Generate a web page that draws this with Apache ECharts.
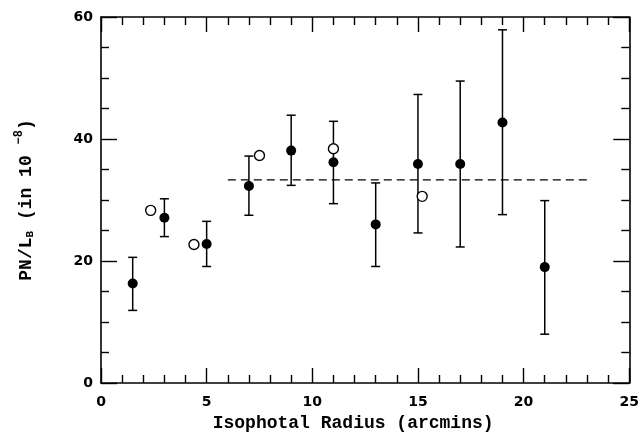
<!DOCTYPE html>
<html>
<head>
<meta charset="utf-8">
<script src="https://cdn.jsdelivr.net/npm/echarts@6/dist/echarts.min.js"></script>
<style>
  html, body { margin: 0; padding: 0; background: #fff; }
  #chart { width: 642px; height: 437px; }
</style>
</head>
<body>
<div id="chart"></div>
<script>
// filled points with error bars
const radius = [1.5, 3, 5, 7, 9, 11, 13, 15, 17, 19, 21];
const ratio = [16.3, 27.1, 22.8, 32.3, 38.1, 36.2, 26.0, 35.9, 35.9, 42.7, 19.0];
const errLow = [11.9, 24.0, 19.1, 27.5, 32.4, 29.4, 19.1, 24.6, 22.3, 27.6, 8.0];
const errHigh = [20.6, 30.2, 26.5, 37.2, 43.9, 42.9, 32.8, 47.3, 49.5, 57.9, 29.9];

// open circles
const openRadius = [2.35, 4.4, 7.5, 11.0, 15.2];
const openRatio = [28.3, 22.7, 37.3, 38.4, 30.6];

// mean level
const meanX = [6, 23];
const meanY = 33.3;

const mono = '"Liberation Mono", "DejaVu Sans Mono", monospace';
const sans = '"DejaVu Sans", "Liberation Sans", sans-serif';

var chart = echarts.init(document.getElementById('chart'));

const tickLine = { color: '#000', width: 1.4 };

function xAx(pos, labels) {
  return {
    type: 'value', position: pos, min: 0, max: 25, interval: 5,
    axisLine: { show: true, onZero: false, lineStyle: { color: '#000', width: 1.6 } },
    axisTick: { show: true, inside: true, length: 15, lineStyle: tickLine },
    minorTick: { show: true, splitNumber: 5, length: 8, lineStyle: tickLine },
    axisLabel: { show: labels, color: '#000', fontFamily: sans, fontWeight: 'bold', fontSize: 14, margin: 12 },
    splitLine: { show: false },
    minorSplitLine: { show: false }
  };
}
function yAx(pos, labels) {
  return {
    type: 'value', position: pos, min: 0, max: 60, interval: 20,
    axisLine: { show: true, onZero: false, lineStyle: { color: '#000', width: 1.6 } },
    axisTick: { show: true, inside: true, length: 16, lineStyle: tickLine },
    minorTick: { show: true, splitNumber: 4, length: 8, lineStyle: tickLine },
    axisLabel: { show: labels, color: '#000', fontFamily: sans, fontWeight: 'bold', fontSize: 14, margin: 8 },
    splitLine: { show: false },
    minorSplitLine: { show: false }
  };
}

const xBottom = xAx('bottom', true);
xBottom.name = 'Isophotal Radius (arcmins)';
xBottom.nameLocation = 'middle';
xBottom.nameGap = 31;
xBottom.nameTextStyle = { color: '#000', fontFamily: mono, fontWeight: 'bold', fontSize: 18, padding: [0, 24, 0, 0] };

const yLeft = yAx('left', true);
yLeft.name = '{a|PN/L}{b|B}{a| (in 10 }{c|−8}{a|)}';
yLeft.nameLocation = 'middle';
yLeft.nameGap = 62;
yLeft.nameTextStyle = {
  rich: {
    a: { color: '#000', fontFamily: mono, fontWeight: 'bold', fontSize: 18, lineHeight: 26, verticalAlign: 'middle' },
    b: { color: '#000', fontFamily: mono, fontWeight: 'bold', fontSize: 11, lineHeight: 26, verticalAlign: 'bottom', padding: [0, 0, 3, 0] },
    c: { color: '#000', fontFamily: mono, fontWeight: 'bold', fontSize: 12, lineHeight: 26, verticalAlign: 'top', padding: [0, 0, 0, 0] }
  }
};

const errData = radius.map((x, i) => [x, errLow[i], errHigh[i]]);

chart.setOption({
  animation: false,
  backgroundColor: '#fff',
  grid: { left: 101, top: 17, right: 10, bottom: 51, containLabel: false },
  xAxis: [xBottom, xAx('top', false)],
  yAxis: [yLeft, yAx('right', false)],
  series: [
    {
      type: 'line',
      data: meanX.map(x => [x, meanY]),
      symbol: 'none',
      lineStyle: { color: '#000', width: 1.2, type: [8, 5] },
      z: 1
    },
    {
      type: 'custom',
      data: errData,
      renderItem: function (params, api) {
        const x = api.value(0);
        const top = api.coord([x, api.value(2)]);
        const bot = api.coord([x, api.value(1)]);
        const w = 4.5;
        const st = { stroke: '#000', lineWidth: 1.5 };
        return {
          type: 'group',
          children: [
            { type: 'line', shape: { x1: top[0], y1: top[1], x2: bot[0], y2: bot[1] }, style: st },
            { type: 'line', shape: { x1: top[0] - w, y1: top[1], x2: top[0] + w, y2: top[1] }, style: st },
            { type: 'line', shape: { x1: bot[0] - w, y1: bot[1], x2: bot[0] + w, y2: bot[1] }, style: st }
          ]
        };
      },
      z: 2
    },
    {
      type: 'scatter',
      data: radius.map((x, i) => [x, ratio[i]]),
      symbol: 'circle',
      symbolSize: 10,
      itemStyle: { color: '#000', opacity: 1 },
      z: 3
    },
    {
      type: 'scatter',
      data: openRadius.map((x, i) => [x, openRatio[i]]),
      symbol: 'circle',
      symbolSize: 10,
      itemStyle: { color: '#fff', borderColor: '#000', borderWidth: 1.4, opacity: 1 },
      z: 3
    }
  ]
});
</script>
</body>
</html>
